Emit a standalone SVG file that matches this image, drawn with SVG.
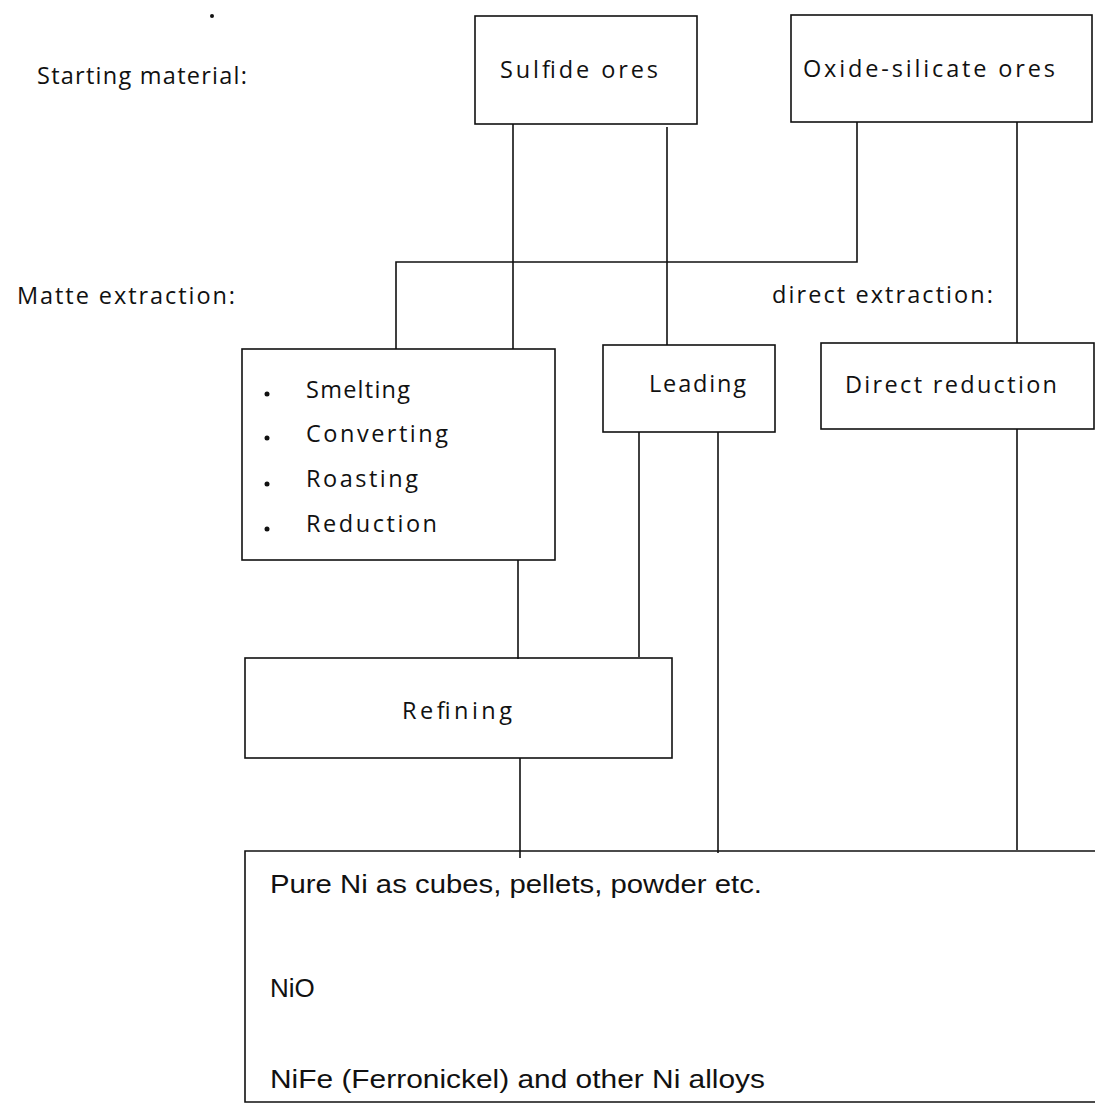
<svg xmlns="http://www.w3.org/2000/svg" width="1095" height="1110" viewBox="0 0 1095 1110">
<style>
.bg{fill:#fff}
.box{fill:none;stroke:#111;stroke-width:1.6}
.ln{fill:none;stroke:#111;stroke-width:1.6}
.t{font-family:"Open Sans","Liberation Sans",sans-serif;font-size:23.5px;fill:#111}
.c{font-family:"Liberation Sans","DejaVu Sans",sans-serif;font-size:26px;fill:#111}
.dot{fill:#111}
</style>
<rect class="bg" x="0" y="0" width="1095" height="1110"/>
<circle class="dot" cx="212" cy="16" r="2"/>
<g id="labels">
<text class="t" x="37" y="84" textLength="210">Starting material:</text>
<text class="t" x="17" y="304" textLength="218">Matte extraction:</text>
<text class="t" x="772" y="303" textLength="221">direct extraction:</text>
</g>
<g id="connectors">
<path class="ln" d="M513,124 V349"/>
<path class="ln" d="M667,127 V345"/>
<path class="ln" d="M857,122 V262 H396 V349"/>
<path class="ln" d="M1017,122 V343"/>
<path class="ln" d="M518,560 V659"/>
<path class="ln" d="M639,432 V657"/>
<path class="ln" d="M718,432 V853"/>
<path class="ln" d="M520,758 V858"/>
<path class="ln" d="M1017,429 V850"/>
</g>
<g id="sulfide">
<rect class="box" x="475" y="16" width="222" height="108"/>
<text class="t" x="500" y="78" textLength="158">Sulfide ores</text>
</g>
<g id="oxide">
<rect class="box" x="791" y="15" width="301" height="107"/>
<text class="t" x="803" y="77" textLength="252">Oxide-silicate ores</text>
</g>
<g id="matte">
<rect class="box" x="242" y="349" width="313" height="211"/>
<circle class="dot" cx="267" cy="394" r="2.5"/>
<circle class="dot" cx="267" cy="438" r="2.5"/>
<circle class="dot" cx="267" cy="484" r="2.5"/>
<circle class="dot" cx="267" cy="529" r="2.5"/>
<text class="t" x="306" y="398" textLength="104">Smelting</text>
<text class="t" x="306" y="442" textLength="142">Converting</text>
<text class="t" x="306" y="487" textLength="112">Roasting</text>
<text class="t" x="306" y="532" textLength="131">Reduction</text>
</g>
<g id="leading">
<rect class="box" x="603" y="345" width="172" height="87"/>
<text class="t" x="649" y="392" textLength="97">Leading</text>
</g>
<g id="direct">
<rect class="box" x="821" y="343" width="273" height="86"/>
<text class="t" x="845" y="393" textLength="212">Direct reduction</text>
</g>
<g id="refining">
<rect class="box" x="245" y="658" width="427" height="100"/>
<text class="t" x="402" y="719" textLength="110">Refining</text>
</g>
<g id="products">
<path class="box" d="M1095,851 H245 V1102 H1095"/>
<text class="c" x="270" y="893" textLength="492" lengthAdjust="spacingAndGlyphs">Pure Ni as cubes, pellets, powder etc.</text>
<text class="c" x="270" y="997">NiO</text>
<text class="c" x="270" y="1088" textLength="495" lengthAdjust="spacingAndGlyphs">NiFe (Ferronickel) and other Ni alloys</text>
</g>
</svg>
